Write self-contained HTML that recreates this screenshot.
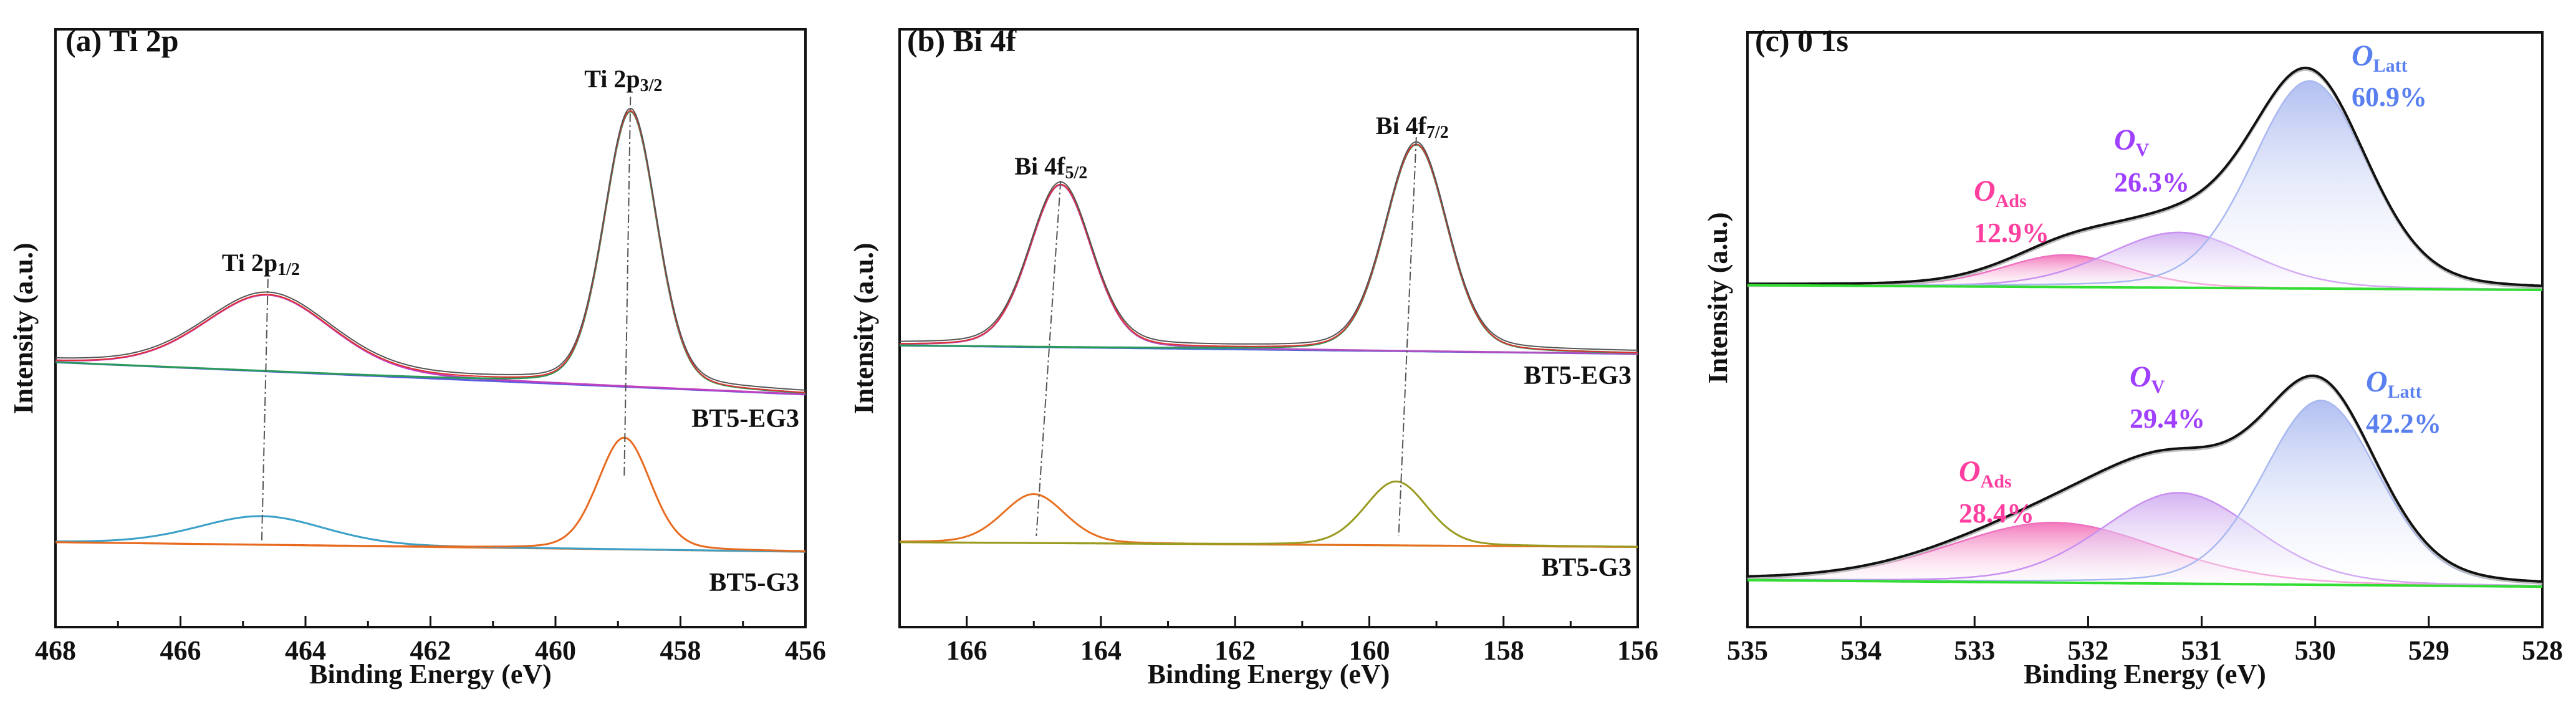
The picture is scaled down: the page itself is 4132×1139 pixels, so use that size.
<!DOCTYPE html>
<html><head><meta charset="utf-8">
<style>
html,body{margin:0;padding:0;background:#fff;}
svg{display:block;}
text{font-family:"Liberation Serif",serif;font-weight:bold;}
</style></head>
<body>
<svg id="fig" width="4132" height="1139" viewBox="0 0 4132 1139" xmlns="http://www.w3.org/2000/svg">
<defs>
<linearGradient id="gLatt" x1="0" y1="0" x2="0" y2="1"><stop offset="0" stop-color="#a9b8f0" stop-opacity="0.9"/><stop offset="1" stop-color="#ffffff" stop-opacity="0.2"/></linearGradient>
<linearGradient id="gV" x1="0" y1="0" x2="0" y2="1"><stop offset="0" stop-color="#c9a0ee" stop-opacity="0.8"/><stop offset="1" stop-color="#ffffff" stop-opacity="0.2"/></linearGradient>
<linearGradient id="gAds" x1="0" y1="0" x2="0" y2="1"><stop offset="0" stop-color="#f060b0" stop-opacity="0.85"/><stop offset="1" stop-color="#ffffff" stop-opacity="0.2"/></linearGradient>
</defs>
</svg>
<script>
// ---------- data ----------
// Panel (a) Ti 2p
const tiCenters = [464.6, 458.8];
const tiEG3Heights = [12.8, 46.1];
const tiG3Centers = [464.7, 458.9];
const tiG3Heights = [4.8, 18.7];
const tiFwhm = [2.4, 1.0];
const tiEG3Baseline = [44.3, 38.9];
const tiG3Baseline = [14.2, 12.6];
const tiTicks = [468, 466, 464, 462, 460, 458, 456];
// Panel (b) Bi 4f
const biEG3Centers = [164.6, 159.3];
const biEG3Heights = [27.2, 34.6];
const biG3Centers = [165.0, 159.6];
const biG3Heights = [8.2, 10.7];
const biFwhm = [1.1, 1.1];
const biEG3Baseline = [47.1, 45.7];
const biG3Baseline = [14.2, 13.4];
const biTicks = [166, 164, 162, 160, 158, 156];
// Panel (c) O 1s  (components: Ads, V, Latt)
const oNames = ["OAds", "OV", "OLatt"];
const oUpCenters = [532.2, 531.2, 530.05];
const oUpHeights = [5.4, 9.3, 34.9];
const oUpFwhm = [1.3, 1.5, 1.2];
const oUpBaseline = [57.5, 56.7];
const oLoCenters = [532.3, 531.2, 529.95];
const oLoHeights = [10.1, 15.3, 31.0];
const oLoFwhm = [2.2, 1.6, 1.2];
const oLoBaseline = [7.9, 6.8];
const oUpPercent = ["12.9%", "26.3%", "60.9%"];
const oLoPercent = ["28.4%", "29.4%", "42.2%"];
const oTicks = [535, 534, 533, 532, 531, 530, 529, 528];

// ---------- helpers ----------
const NS = "http://www.w3.org/2000/svg";
const svg = document.getElementById("fig");
function mk(tag, attrs, parent) {
  const e = document.createElementNS(NS, tag);
  for (const k in attrs) e.setAttribute(k, attrs[k]);
  (parent || svg).appendChild(e);
  return e;
}
function pv(x, c, h, w) { // pseudo-voigt
  const d = (x - c) / w;
  const g = Math.exp(-4 * Math.LN2 * d * d);
  const l = 1 / (1 + 4 * d * d);
  return h * (0.8 * g + 0.2 * l);
}
function makeAxes(p) {
  const xs = v => p.x0 + (p.xmax - v) / (p.xmax - p.xmin) * (p.x1 - p.x0);
  const ys = v => p.y1 - v * (p.y1 - p.y0) / 100;
  return { xs, ys };
}
function drawFrame(p, ticks, minor, name) {
  const g = mk("g", {});
  
  
  const { xs } = makeAxes(p);
  const r = mk("rect", { x: p.x0, y: p.y0, width: p.x1 - p.x0, height: p.y1 - p.y0, fill: "none", stroke: "#111", "stroke-width": 4 }, g);
  
  
  for (let v = p.xmin; v <= p.xmax + 1e-9; v += minor) {
    const isMaj = ticks.some(t => Math.abs(t - v) < 1e-6);
    const x = xs(v);
    mk("line", { x1: x, x2: x, y1: p.y1, y2: p.y1 - (isMaj ? 18 : 10), stroke: "#111", "stroke-width": 3 }, g);
  }
  ticks.forEach(t => {
    const tx = mk("text", { x: xs(t), y: 1058, "font-size": 44, "text-anchor": "middle", fill: "#111" }, g);
    tx.textContent = t;
    
    
  });
  const xt = mk("text", { x: (p.x0 + p.x1) / 2, y: 1096, "font-size": 44, "text-anchor": "middle", fill: "#111" }, g);
  xt.textContent = "Binding Energy (eV)";
  
  
  const yt = mk("text", { x: 0, y: 0, "font-size": 44, "text-anchor": "middle", fill: "#111", transform: `translate(${p.ytx},${p.yty}) rotate(-90)` }, g);
  yt.textContent = "Intensity (a.u.)";
  
  
  return { xs: xs, ys: makeAxes(p).ys };
}
function curvePts(p, fn) {
  const { xs, ys } = makeAxes(p);
  const pts = [];
  const N = 500;
  for (let i = 0; i <= N; i++) {
    const v = p.xmin + (p.xmax - p.xmin) * i / N;
    pts.push(xs(v).toFixed(1) + "," + ys(fn(v)).toFixed(1));
  }
  return pts;
}
function line(p, fn, color, w, name) {
  const e = mk("polyline", { points: curvePts(p, fn).join(" "), fill: "none", stroke: color, "stroke-width": w, "stroke-linejoin": "round" });
  
  
  return e;
}
function baseFn(p, b) { return v => b[0] + (p.xmax - v) / (p.xmax - p.xmin) * (b[1] - b[0]); }
function label(x, y, main, sub, size, subSize, color, name, italic) {
  const t = mk("text", { x: x, y: y, "font-size": size, fill: color });
  const a = mk("tspan", italic ? { "font-style": "italic" } : {}, t); a.textContent = main;
  if (sub) { const b = mk("tspan", { "font-size": subSize, dy: italic ? 10 : 6 }, t); b.textContent = sub; }
  
  
  return t;
}
function dashLine(x1, y1, x2, y2, name) {
  const e = mk("line", { x1, y1, x2, y2, stroke: "#555", "stroke-width": 2, "stroke-dasharray": "14 5 3 5" });
  
  
}

// ---------- Panel (a) ----------
const pa = { x0: 89, x1: 1292, y0: 47, y1: 1006, xmin: 456, xmax: 468, ytx: 52, yty: 527 };
drawFrame(pa, tiTicks, 1, "ti2p");
{
  const bE = baseFn(pa, tiEG3Baseline), bG = baseFn(pa, tiG3Baseline);
  const tot = (b, cs, hs) => v => b(v) + cs.reduce((s, c, i) => s + pv(v, c, hs[i], tiFwhm[i]), 0);
  line(pa, bE, "#5a5ae0", 3, "ti-eg3-background");
  line(pa, v => bE(v) + pv(v, tiCenters[0], tiEG3Heights[0], tiFwhm[0]), "#c040c0", 3, "ti-eg3-2p12-fit");
  line(pa, v => bE(v) + pv(v, tiCenters[1], tiEG3Heights[1], tiFwhm[1]), "#2a9a5a", 3, "ti-eg3-2p32-fit");
  line(pa, tot(bE, tiCenters, tiEG3Heights), "#e03030", 2, "ti-eg3-envelope");
  line(pa, v => tot(bE, tiCenters, tiEG3Heights)(v) + 0.4, "#555", 2, "ti-eg3-raw");
  line(pa, bG, "#e87830", 3, "ti-g3-background");
  line(pa, v => bG(v) + pv(v, tiG3Centers[0], tiG3Heights[0], tiFwhm[0]), "#3aa0c8", 3, "ti-g3-2p12-fit");
  line(pa, v => bG(v) + pv(v, tiG3Centers[1], tiG3Heights[1], tiFwhm[1]), "#e86a20", 3, "ti-g3-2p32-fit");
  const { xs, ys } = makeAxes(pa);
  dashLine(xs(tiCenters[1]), 155, xs(tiG3Centers[1]), 765, "ti-2p32-guide");
  dashLine(xs(tiCenters[0]), 448, xs(tiG3Centers[0]), 870, "ti-2p12-guide");
  label(105, 82, "(a) Ti 2p", null, 50, 0, "#111", "panel-a-title");
  label(xs(tiCenters[1]) - 74, 140, "Ti 2p", "3/2", 40, 28, "#111", "ti-2p32-label");
  label(xs(tiCenters[0]) - 74, 435, "Ti 2p", "1/2", 40, 28, "#111", "ti-2p12-label");
  const l1 = mk("text", { x: 1282, y: 685, "font-size": 42, "text-anchor": "end", fill: "#111" }); l1.textContent = "BT5-EG3";
   
  const l2 = mk("text", { x: 1282, y: 948, "font-size": 42, "text-anchor": "end", fill: "#111" }); l2.textContent = "BT5-G3";
   
}

// ---------- Panel (b) ----------
const pb = { x0: 1443, x1: 2627, y0: 47, y1: 1006, xmin: 156, xmax: 167, ytx: 1400, yty: 527 };
drawFrame(pb, biTicks, 1, "bi4f");
{
  const bE = baseFn(pb, biEG3Baseline), bG = baseFn(pb, biG3Baseline);
  const tot = (b, cs, hs) => v => b(v) + cs.reduce((s, c, i) => s + pv(v, c, hs[i], biFwhm[i]), 0);
  line(pb, bE, "#4a6ad8", 3, "bi-eg3-background");
  line(pb, v => bE(v) + pv(v, biEG3Centers[0], biEG3Heights[0], biFwhm[0]), "#b050c0", 3, "bi-eg3-4f52-fit");
  line(pb, v => bE(v) + pv(v, biEG3Centers[1], biEG3Heights[1], biFwhm[1]), "#2a9a5a", 3, "bi-eg3-4f72-fit");
  line(pb, tot(bE, biEG3Centers, biEG3Heights), "#e03030", 2, "bi-eg3-envelope");
  line(pb, v => tot(bE, biEG3Centers, biEG3Heights)(v) + 0.4, "#555", 2, "bi-eg3-raw");
  line(pb, bG, "#a0a020", 3, "bi-g3-background");
  line(pb, v => bG(v) + pv(v, biG3Centers[0], biG3Heights[0], biFwhm[0]), "#e87020", 3, "bi-g3-4f52-fit");
  line(pb, v => bG(v) + pv(v, biG3Centers[1], biG3Heights[1], biFwhm[1]), "#9a9a20", 3, "bi-g3-4f72-fit");
  const { xs } = makeAxes(pb);
  dashLine(xs(biEG3Centers[1]), 220, xs(biG3Centers[1]) + 4, 860, "bi-4f72-guide");
  dashLine(xs(biEG3Centers[0]), 290, xs(biG3Centers[0]) + 4, 860, "bi-4f52-guide");
  label(1455, 82, "(b) Bi 4f", null, 50, 0, "#111", "panel-b-title");
  label(xs(biEG3Centers[0]) - 74, 280, "Bi 4f", "5/2", 40, 28, "#111", "bi-4f52-label");
  label(xs(biEG3Centers[1]) - 65, 215, "Bi 4f", "7/2", 40, 28, "#111", "bi-4f72-label");
  const l1 = mk("text", { x: 2617, y: 616, "font-size": 42, "text-anchor": "end", fill: "#111" }); l1.textContent = "BT5-EG3";
   
  const l2 = mk("text", { x: 2617, y: 924, "font-size": 42, "text-anchor": "end", fill: "#111" }); l2.textContent = "BT5-G3";
   
}

// ---------- Panel (c) ----------
const pc = { x0: 2803, x1: 4078, y0: 52, y1: 1006, xmin: 528, xmax: 535, ytx: 2770, yty: 478 };
drawFrame(pc, oTicks, 1, "o1s");
{
  const fills = ["url(#gAds)", "url(#gV)", "url(#gLatt)"];
  const strokes = ["#f070c0", "#c890f0", "#a8b8f0"];
  const { xs, ys } = makeAxes(pc);
  function group(cs, hs, ws, base, tag) {
    const b = baseFn(pc, base);
    cs.forEach((c, i) => {
      const f = v => b(v) + pv(v, c, hs[i], ws[i]);
      const pts = curvePts(pc, f);
      const area = mk("polygon", { points: pts.join(" ") + " " + curvePts(pc, b).reverse().join(" "), fill: fills[i], stroke: "none" });
      
      
      line(pc, f, strokes[i], 2.5, tag + '-' + oNames[i] + '-fit');
    });
    const tot = v => b(v) + cs.reduce((s, c, i) => s + pv(v, c, hs[i], ws[i]), 0);
    line(pc, v => tot(v) - 0.3, "#bbb", 4, tag + "-raw");
    line(pc, tot, "#111", 4, tag + "-envelope");
    line(pc, b, "#33dd33", 4, tag + "-background");
  }
  group(oUpCenters, oUpHeights, oUpFwhm, oUpBaseline, "o-eg3");
  group(oLoCenters, oLoHeights, oLoFwhm, oLoBaseline, "o-g3");
  label(2815, 82, "(c)  0  1s", null, 50, 0, "#111", "panel-c-title");
  const cols = ["#ff3fa0", "#a040ff", "#5a80f0"];
  const upPos = [[3166, 322, 388], [3391, 240, 307], [3772, 105, 170]];
  const loPos = [[3142, 772, 838], [3416, 620, 686], [3795, 628, 694]];
  const subs = ["Ads", "V", "Latt"];
  [0, 1, 2].forEach(i => {
    label(upPos[i][0], upPos[i][1], "O", subs[i], 48, 30, cols[i], "o-eg3-" + oNames[i] + "-label", true);
    label(upPos[i][0], upPos[i][2], oUpPercent[i], null, 44, 0, cols[i], "o-eg3-" + oNames[i] + "-percent");
    label(loPos[i][0], loPos[i][1], "O", subs[i], 48, 30, cols[i], "o-g3-" + oNames[i] + "-label", true);
    label(loPos[i][0], loPos[i][2], oLoPercent[i], null, 44, 0, cols[i], "o-g3-" + oNames[i] + "-percent");
  });
}
</script>
</body></html>
